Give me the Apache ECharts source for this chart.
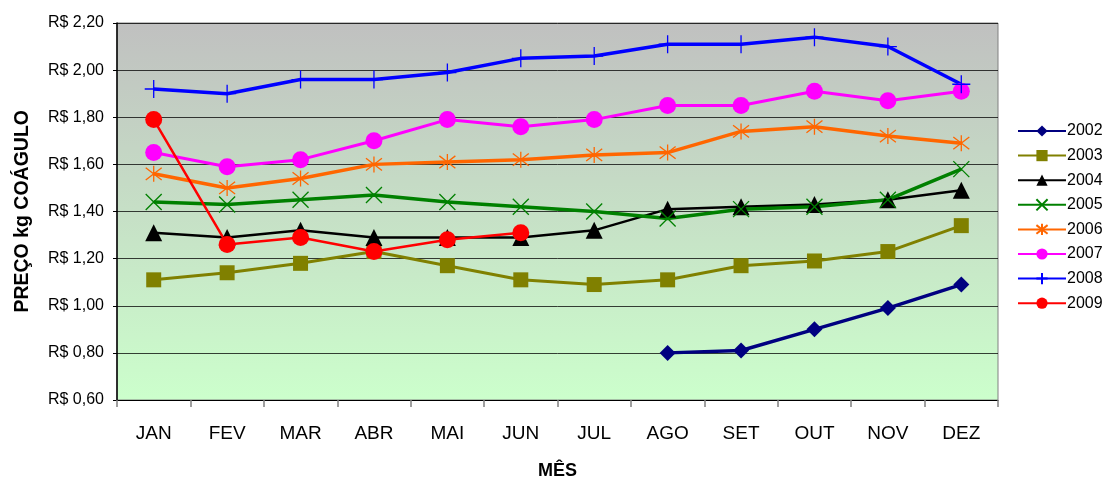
<!DOCTYPE html>
<html>
<head>
<meta charset="utf-8">
<script src="https://cdn.jsdelivr.net/npm/echarts@6/dist/echarts.min.js"></script>
<style>
html,body{margin:0;padding:0;background:#fff;}
#chart{width:1106px;height:480px;}
</style>
</head>
<body>
<div id="chart"></div>
<script>
var months = ['JAN','FEV','MAR','ABR','MAI','JUN','JUL','AGO','SET','OUT','NOV','DEZ'];
var yTicks = [0.6, 0.8, 1.0, 1.2, 1.4, 1.6, 1.8, 2.0, 2.2];
var s2002 = [null, null, null, null, null, null, null, 0.80, 0.81, 0.90, 0.99, 1.09];
var s2003 = [1.11, 1.14, 1.18, 1.23, 1.17, 1.11, 1.09, 1.11, 1.17, 1.19, 1.23, 1.34];
var s2004 = [1.31, 1.29, 1.32, 1.29, 1.29, 1.29, 1.32, 1.41, 1.42, 1.43, 1.45, 1.49];
var s2005 = [1.44, 1.43, 1.45, 1.47, 1.44, 1.42, 1.40, 1.37, 1.41, 1.42, 1.45, 1.58];
var s2006 = [1.56, 1.50, 1.54, 1.60, 1.61, 1.62, 1.64, 1.65, 1.74, 1.76, 1.72, 1.69];
var s2007 = [1.65, 1.59, 1.62, 1.70, 1.79, 1.76, 1.79, 1.85, 1.85, 1.91, 1.87, 1.91];
var s2008 = [1.92, 1.90, 1.96, 1.96, 1.99, 2.05, 2.06, 2.11, 2.11, 2.14, 2.10, 1.94];
var s2009 = [1.79, 1.26, 1.29, 1.23, 1.28, 1.31, null, null, null, null, null, null];

var X_PATH = 'path://M0,0L10,10M10,0L0,10';
var STAR_PATH = 'path://M0,0L10,10M10,0L0,10M5,-1.5L5,11.5';
var PLUS_PATH = 'path://M5,0L5,10M0,5L10,5';
var FONT = 'Liberation Sans, Arial, sans-serif';

function mk(name, data, color, symbol, size, lw, stroked) {
  return {
    name: name, type: 'line', data: data,
    symbol: symbol, symbolSize: size,
    lineStyle: { color: color, width: lw },
    itemStyle: stroked ? { color: color, borderColor: color, borderWidth: 1.3 } : { color: color },
    emphasis: { disabled: true },
    connectNulls: false,
    z: 3
  };
}

var chart = echarts.init(document.getElementById('chart'));
chart.setOption({
  animation: false,
  backgroundColor: '#ffffff',
  textStyle: { fontFamily: FONT },
  grid: {
    left: 117, right: 108, top: 23, bottom: 80,
    outerBoundsMode: 'none',
    containLabel: false,
    show: true,
    borderColor: '#808080', borderWidth: 1,
    backgroundColor: {
      type: 'linear', x: 0, y: 0, x2: 0, y2: 1,
      colorStops: [{ offset: 0, color: '#c0c0c0' }, { offset: 1, color: '#ccffcc' }]
    }
  },
  legend: {
    orient: 'vertical', left: 1012, top: 118,
    itemWidth: 48, itemHeight: 14, itemGap: 8.6,
    textStyle: { fontSize: 16, color: '#000', fontFamily: FONT, padding: [0,0,0,-4] },
    data: ['2002','2003','2004','2005','2006','2007','2008','2009']
  },
  xAxis: {
    type: 'category', data: months, boundaryGap: true,
    name: 'MÊS', nameLocation: 'middle', nameGap: 62,
    nameTextStyle: { fontSize: 18, fontWeight: 'bold', color: '#000' },
    axisLine: { lineStyle: { color: '#000', width: 1 } },
    axisTick: { show: true, length: 7, lineStyle: { color: '#808080', width: 1.5 } },
    axisLabel: { fontSize: 19, color: '#000', margin: 24 },
    splitLine: { show: false }
  },
  yAxis: {
    type: 'value', min: 0.6, max: 2.2, interval: 0.2,
    axisLine: { show: true, lineStyle: { color: '#000', width: 1.5 } },
    axisTick: { show: true, length: 4, lineStyle: { color: '#000' } },
    axisLabel: {
      fontSize: 16, color: '#000', margin: 13,
      formatter: function (v) { return 'R$ ' + v.toFixed(2).replace('.', ','); }
    },
    splitLine: { show: true, lineStyle: { color: '#000', width: 1, opacity: 0.75 } }
  },
  graphic: [{
    type: 'text', left: 13, top: 110, rotation: Math.PI / 2,
    style: { text: 'PREÇO kg COÁGULO', fontSize: 19.5, fontWeight: 'bold', fill: '#000', fontFamily: FONT },
    silent: true
  }],
  series: [
    mk('2002', s2002, '#000080', 'diamond', 16, 3.5, false),
    mk('2003', s2003, '#808000', 'rect', 15, 3, false),
    mk('2004', s2004, '#000000', 'triangle', 17, 2.5, false),
    mk('2005', s2005, '#008000', X_PATH, 16, 3.5, true),
    mk('2006', s2006, '#ff6600', STAR_PATH, 16, 3.5, true),
    mk('2007', s2007, '#ff00ff', 'circle', 17, 3, false),
    mk('2008', s2008, '#0000ff', PLUS_PATH, 18, 3.5, true),
    mk('2009', s2009, '#ff0000', 'circle', 17, 2.5, false)
  ]
});
</script>
</body>
</html>
